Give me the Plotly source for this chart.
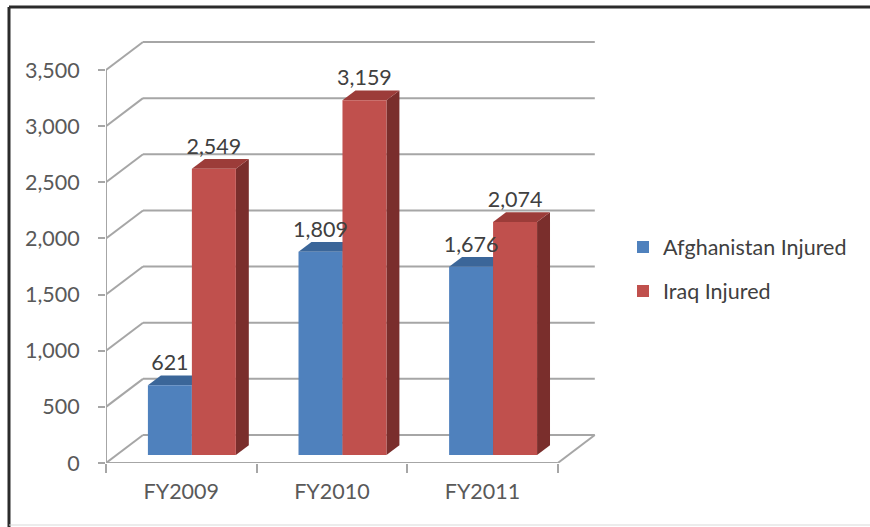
import plotly.graph_objects as go

# ---- data ----
categories = ["FY2009", "FY2010", "FY2011"]
afghanistan_injured = [621, 1809, 1676]
iraq_injured = [2549, 3159, 2074]
y_ticks = [0, 500, 1000, 1500, 2000, 2500, 3000, 3500]

# ---- geometry (figure pixels -> axis units) ----
W, H = 870, 527
ML, MR, MT, MB = 106, 270, 35, 64
PLOT_W = W - ML - MR
PLOT_H = H - MT - MB
CAT_PX = 150.6                 # pixels per category on the front plane
VAL_PER_PX = 3500 / 393.0      # value units per pixel on the front plane
X0 = -0.5
X1 = X0 + PLOT_W / CAT_PX
Y1 = PLOT_H * VAL_PER_PX
N = len(categories)

# depth of the floor/wall box (oblique projection)
DEPTH_X = 37 / CAT_PX
DEPTH_Y = 28 * VAL_PER_PX
# bars sit between these fractions of the depth
FRONT, BACK = 0.286, 0.636
BAR_W = 0.292

SX, SY = FRONT * DEPTH_X, FRONT * DEPTH_Y       # shift of bar front faces
DDX, DDY = (BACK - FRONT) * DEPTH_X, (BACK - FRONT) * DEPTH_Y  # bar depth

BLUE, BLUE_TOP, BLUE_SIDE = "#4F81BD", "#3B6699", "#2F5580"
RED, RED_TOP, RED_SIDE = "#C0504D", "#9C3C39", "#7A2E2C"
GRID = "#A6A6A6"
FONT = "Lato"
FS = 21.5


def px_to_paper_x(px):
    return (px - ML) / PLOT_W


def px_to_paper_y(py):
    return (H - MB - py) / PLOT_H


def poly(points, color):
    path = "M " + " L ".join(f"{x},{y}" for x, y in points) + " Z"
    return dict(type="path", path=path, xref="x", yref="y",
                fillcolor=color, line=dict(width=0), layer="below")


def seg(x0, y0, x1, y1, color=GRID, width=2):
    return dict(type="line", x0=x0, y0=y0, x1=x1, y1=y1, xref="x", yref="y",
                line=dict(color=color, width=width), layer="below")


shapes = []
# side wall + back wall gridlines
for t in y_ticks:
    shapes.append(seg(X0, t, X0 + DEPTH_X, t + DEPTH_Y))
    shapes.append(seg(X0 + DEPTH_X, t + DEPTH_Y, N - 0.5 + DEPTH_X, t + DEPTH_Y))
# value axis line and floor outline
shapes.append(seg(X0, 0, X0, y_ticks[-1]))
shapes.append(seg(X0, 0, N - 0.5, 0))
shapes.append(seg(N - 0.5, 0, N - 0.5 + DEPTH_X, DEPTH_Y))


def bar_faces(xl, xr, v, top_color, side_color):
    top = SY + v
    shapes.append(poly([(xr, SY), (xr, top), (xr + DDX, top + DDY), (xr + DDX, SY + DDY)], side_color))
    shapes.append(poly([(xl, top), (xr, top), (xr + DDX, top + DDY), (xl + DDX, top + DDY)], top_color))


blue_x = [i - BAR_W / 2 + SX for i in range(N)]
red_x = [i + BAR_W / 2 + SX for i in range(N)]
for i in range(N):
    bar_faces(blue_x[i] - BAR_W / 2, blue_x[i] + BAR_W / 2, afghanistan_injured[i], BLUE_TOP, BLUE_SIDE)
for i in range(N):
    bar_faces(red_x[i] - BAR_W / 2, red_x[i] + BAR_W / 2, iraq_injured[i], RED_TOP, RED_SIDE)

# outer frame of the chart area
frame = [
    dict(type="line", xref="paper", yref="paper",
         x0=px_to_paper_x(9), y0=px_to_paper_y(7), x1=px_to_paper_x(W), y1=px_to_paper_y(7),
         line=dict(color="#2B2B2B", width=3), layer="above"),
    dict(type="line", xref="paper", yref="paper",
         x0=px_to_paper_x(9), y0=px_to_paper_y(7), x1=px_to_paper_x(9), y1=px_to_paper_y(H),
         line=dict(color="#2B2B2B", width=3), layer="above"),
    dict(type="line", xref="paper", yref="paper",
         x0=px_to_paper_x(9), y0=px_to_paper_y(525), x1=px_to_paper_x(W), y1=px_to_paper_y(525),
         line=dict(color="#D9D9D9", width=1), layer="above"),
]

fig = go.Figure()

fig.add_trace(go.Bar(
    name="Afghanistan Injured", x=blue_x, y=afghanistan_injured, base=[SY] * N,
    width=BAR_W, marker=dict(color=BLUE, line=dict(width=0)),
    legendgroup="a", hoverinfo="skip"))
fig.add_trace(go.Bar(
    name="Iraq Injured", x=red_x, y=iraq_injured, base=[SY] * N,
    width=BAR_W, marker=dict(color=RED, line=dict(width=0)),
    legendgroup="b", hoverinfo="skip"))

# value labels above each bar
for xs, vals in ((blue_x, afghanistan_injured), (red_x, iraq_injured)):
    fig.add_trace(go.Scatter(
        x=xs, y=[v + SY + DDY for v in vals], mode="text",
        text=[f"{v:,}" for v in vals], textposition="top center",
        textfont=dict(family=FONT, size=FS, color="#404040"),
        showlegend=False, hoverinfo="skip", cliponaxis=False))

# category labels on an overlaid axis (ticks sit on category boundaries)
fig.add_trace(go.Scatter(x=[None], y=[None], xaxis="x2", showlegend=False, hoverinfo="skip"))

fig.update_layout(
    width=W, height=H,
    margin=dict(l=ML, r=MR, t=MT, b=MB),
    paper_bgcolor="white", plot_bgcolor="white",
    barmode="overlay",
    font=dict(family=FONT, size=FS, color="#595959"),
    shapes=shapes + frame,
    showlegend=True,
    legend=dict(x=px_to_paper_x(623), y=px_to_paper_y(269), xanchor="left", yanchor="middle",
                font=dict(family=FONT, size=FS, color="#404040"),
                tracegroupgap=13, bgcolor="rgba(0,0,0,0)"),
    xaxis=dict(range=[X0, X1], tickvals=[k - 0.5 for k in range(N + 1)],
               showticklabels=False, ticks="outside", ticklen=9, tickwidth=2,
               tickcolor=GRID, showgrid=False, zeroline=False, showline=False,
               fixedrange=True),
    xaxis2=dict(range=[X0, X1], overlaying="x", side="bottom",
                tickvals=list(range(N)), ticktext=categories, ticks="",
                ticklabelstandoff=13, showgrid=False, zeroline=False, showline=False,
                tickfont=dict(family=FONT, size=FS, color="#595959")),
    yaxis=dict(range=[0, Y1], tickvals=y_ticks, tickformat=",", ticks="outside",
               ticklen=7, tickwidth=2, tickcolor=GRID, ticklabelstandoff=14,
               showgrid=False, zeroline=False, showline=False,
               tickfont=dict(family=FONT, size=FS, color="#595959")),
)

fig.write_html("out.html")
